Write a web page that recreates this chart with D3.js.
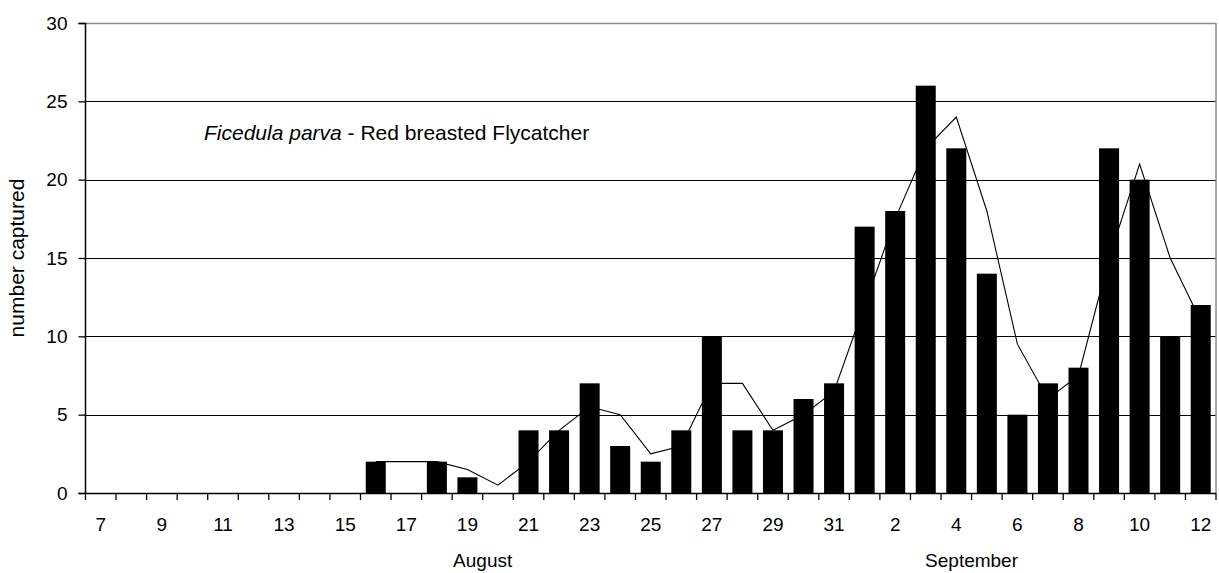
<!DOCTYPE html>
<html>
<head>
<meta charset="utf-8">
<script src="https://cdn.jsdelivr.net/npm/d3@7/dist/d3.min.js"></script>
<style>
  html, body { margin: 0; padding: 0; background: #fff; }
  svg { display: block; }
  text { font-family: Arial, "Liberation Sans", sans-serif; fill: #000; }
</style>
</head>
<body>
<svg id="chart" width="1219" height="573"></svg>
<script>
// ---- data ----
const days = ["7","8","9","10","11","12","13","14","15","16","17","18","19","20","21","22","23","24","25","26","27","28","29","30","31",
              "1","2","3","4","5","6","7","8","9","10","11","12"];
const months = ["Aug","Aug","Aug","Aug","Aug","Aug","Aug","Aug","Aug","Aug","Aug","Aug","Aug","Aug","Aug","Aug","Aug","Aug","Aug","Aug","Aug","Aug","Aug","Aug","Aug",
                "Sep","Sep","Sep","Sep","Sep","Sep","Sep","Sep","Sep","Sep","Sep","Sep"];
const captured = [0,0,0,0,0,0,0,0,0,2,0,2,1,0,4,4,7,3,2,4,10,4,4,6,7,
                  17,18,26,22,14,5,7,8,22,20,10,12];
const movingAvg = [null,null,null,null,null,null,null,null,null,2,2,2,1.5,0.5,2,4,5.5,5,2.5,3,7,7,4,5,6.5,
                   12,17.5,22,24,18,9.5,6,7.5,15,21,15,11];
const yTicks = [0,5,10,15,20,25,30];
const monthLabels = [{name:"August", after:"Aug-19"}, {name:"September", after:"Sep-4"}];
const titleItalic = "Ficedula parva";
const titleRest = " - Red breasted Flycatcher";
const yTitle = "number captured";

// ---- layout ----
const svg = d3.select("#chart");
const L = 85.5, R = 1216, T = 23, B = 493;
const keys = days.map((d, i) => months[i] + "-" + d);

const x = d3.scaleBand().domain(keys).range([L, R]).padding(0);
const y = d3.scaleLinear().domain([0, 30]).range([B, T]);
const barW = x.bandwidth() * 0.655;

// gridlines
svg.append("g").selectAll("line").data(yTicks.filter(v => v > 0 && v < 30)).join("line")
  .attr("x1", L).attr("x2", R)
  .attr("y1", d => Math.round(y(d)) + 0.5).attr("y2", d => Math.round(y(d)) + 0.5)
  .attr("stroke", "#000").attr("stroke-width", 1.2);

// top & right border (gray)
svg.append("line").attr("x1", L).attr("x2", R).attr("y1", Math.round(y(30)) + 0.5).attr("y2", Math.round(y(30)) + 0.5)
  .attr("stroke", "#8a8a8a").attr("stroke-width", 1.5);
svg.append("line").attr("x1", R).attr("x2", R).attr("y1", y(30)).attr("y2", B)
  .attr("stroke", "#8a8a8a").attr("stroke-width", 1.5);

// bars
svg.append("g").selectAll("rect").data(captured.map((v, i) => ({k: keys[i], v})).filter(d => d.v > 0)).join("rect")
  .attr("x", d => x(d.k) + (x.bandwidth() - barW) / 2)
  .attr("width", barW)
  .attr("y", d => y(d.v))
  .attr("height", d => B - y(d.v))
  .attr("fill", "#000");

// moving average line
const lineData = movingAvg.map((v, i) => ({k: keys[i], v})).filter(d => d.v !== null);
svg.append("path").datum(lineData)
  .attr("fill", "none").attr("stroke", "#000").attr("stroke-width", 1.1)
  .attr("d", d3.line().x(d => x(d.k) + x.bandwidth() / 2).y(d => y(d.v)));

// y axis
const yAxis = d3.axisLeft(y).tickValues(yTicks).tickSize(7).tickPadding(11);
const gy = svg.append("g").attr("transform", `translate(${L},0)`).call(yAxis);
gy.select(".domain").attr("stroke", "#000").attr("stroke-width", 1.5).attr("d", `M-7,${T + 0.5}H0V${B}`);
gy.selectAll(".tick line").attr("stroke", "#000").attr("stroke-width", 1.3);
gy.selectAll(".tick text").attr("font-size", 19).attr("fill", "#000").attr("font-family", "Arial, 'Liberation Sans', sans-serif");

// x axis: ticks at category boundaries
const boundaries = keys.map(k => x(k)).concat([R]);
svg.append("line").attr("x1", L - 7).attr("x2", R).attr("y1", B + 0.5).attr("y2", B + 0.5)
  .attr("stroke", "#000").attr("stroke-width", 1.5);
svg.append("g").selectAll("line").data(boundaries).join("line")
  .attr("x1", d => d).attr("x2", d => d).attr("y1", B).attr("y2", B + 7)
  .attr("stroke", "#000").attr("stroke-width", 1.3);

// x tick labels (every other day)
svg.append("g").selectAll("text").data(keys.filter((k, i) => i % 2 === 0)).join("text")
  .attr("x", k => x(k) + x.bandwidth() / 2)
  .attr("y", 531)
  .attr("text-anchor", "middle").attr("font-size", 19)
  .text(k => k.split("-")[1]);

// month labels
svg.append("g").selectAll("text").data(monthLabels).join("text")
  .attr("x", d => x(d.after) + x.bandwidth())
  .attr("y", 567)
  .attr("text-anchor", "middle").attr("font-size", 19)
  .text(d => d.name);

// y title
svg.append("text")
  .attr("transform", `translate(24,${(T + B) / 2}) rotate(-90)`)
  .attr("text-anchor", "middle").attr("font-size", 21)
  .text(yTitle);

// chart annotation
const t = svg.append("text").attr("x", 204).attr("y", 140).attr("font-size", 21);
t.append("tspan").attr("font-style", "italic").text(titleItalic);
t.append("tspan").text(titleRest);
</script>
</body>
</html>
